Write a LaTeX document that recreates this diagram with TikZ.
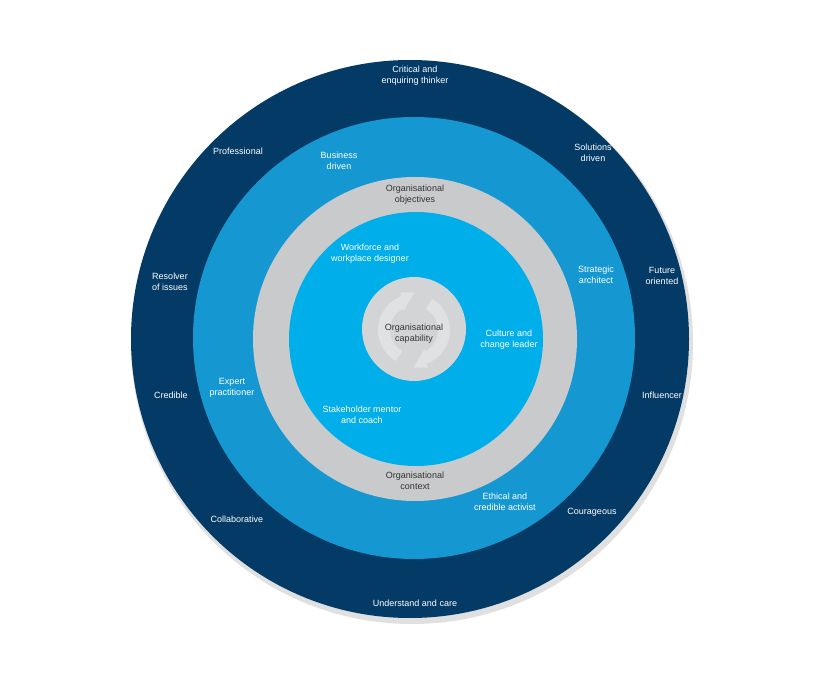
\documentclass[tikz,border=0pt]{standalone}
\usepackage{fontspec}
\setmainfont{Liberation Sans}
\begin{document}
\begin{tikzpicture}[x=1pt,y=-1pt,
  lbl/.style={align=center,text=white,font=\fontsize{9}{11}\selectfont},
  swirl/.style={white!30!cgray,line width=12pt}]
\definecolor{navy}{HTML}{033B66}
\definecolor{midblue}{HTML}{1598D2}
\definecolor{ringgray}{HTML}{C9CACC}
\definecolor{bright}{HTML}{00AEEA}
\definecolor{cgray}{HTML}{D3D4D6}
\useasboundingbox (0,0) rectangle (820,692);
\fill[white] (0,0) rectangle (820,692);
\fill[black!12] (412,343) circle (281);
\fill[navy] (410,339) circle (279);
\fill[midblue] (414,338) circle (221);
\fill[ringgray] (415,339) circle (162);
\fill[bright] (416,339) circle (127);
\fill[cgray] (414,329) circle (52);
\draw[swirl] (414,330) ++(120:30) arc (120:250:30);
\draw[swirl] (414,330) ++(300:30) arc (300:430:30);
\fill[white!30!cgray] (414,330) ++(250:40) -- ++(0:14) -- ++(120:22) -- cycle;
\fill[white!30!cgray] (414,330) ++(70:40) -- ++(180:14) -- ++(300:22) -- cycle;
\node[lbl] (o1) at (415,76) {Critical and\\enquiring thinker};
\node[lbl] (o2) at (238,151) {Professional};
\node[lbl] (o3) at (593,153) {Solutions\\driven};
\node[lbl] (o4) at (170,282) {Resolver\\of issues};
\node[lbl] (o5) at (662,276) {Future\\oriented};
\node[lbl] (o6) at (171,395) {Credible};
\node[lbl] (o7) at (662,395) {Influencer};
\node[lbl] (o8) at (237,519) {Collaborative};
\node[lbl] (o9) at (592,512) {Courageous};
\node[lbl] (o10) at (415,603) {Understand and care};
\node[lbl] (m1) at (339,161) {Business\\driven};
\node[lbl] (m2) at (596,275) {Strategic\\architect};
\node[lbl] (m3) at (232,388) {Expert\\practitioner};
\node[lbl] (m4) at (505,502) {Ethical and\\credible activist};
\node[lbl,text=black!80] (g1) at (415,195) {Organisational\\objectives};
\node[lbl,text=black!80] (g2) at (415,481) {Organisational\\context};
\node[lbl] (i1) at (370,254) {Workforce and\\workplace designer};
\node[lbl] (i2) at (509,340) {Culture and\\change leader};
\node[lbl] (i3) at (362,415) {Stakeholder mentor\\and coach};
\node[lbl,text=black!80] (c) at (414,334) {Organisational\\capability};
\end{tikzpicture}
\end{document}
